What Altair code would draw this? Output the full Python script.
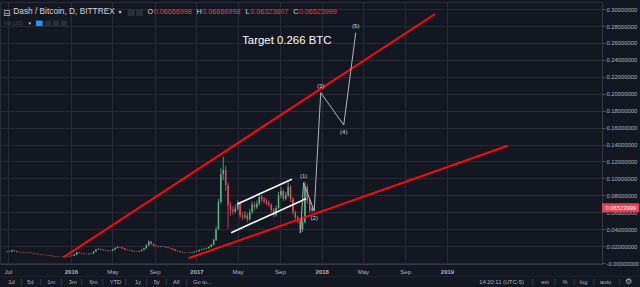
import altair as alt
import pandas as pd

# ---------------- data ----------------
week_start = "2015-06-29"          # weekly candles
first_open = 0.0130
closes = [0.0133, 0.0135, 0.0150, 0.0140, 0.0130, 0.0128, 0.0124, 0.0122, 0.0120, 0.0122,
          0.0118, 0.0112, 0.0108, 0.0102, 0.0098, 0.0094, 0.0092, 0.0088, 0.0084, 0.0080,
          0.0077, 0.0075, 0.0074, 0.0076, 0.0075, 0.0078, 0.0083, 0.0086, 0.0100, 0.0124,
          0.0118, 0.0112, 0.0106, 0.0104, 0.0108, 0.0112, 0.0135, 0.0160, 0.0165, 0.0158,
          0.0152, 0.0150, 0.0145, 0.0146, 0.0160, 0.0178, 0.0190, 0.0185, 0.0170, 0.0158,
          0.0154, 0.0148, 0.0140, 0.0135, 0.0133, 0.0140, 0.0155, 0.0173, 0.0210, 0.0255,
          0.0225, 0.0205, 0.0198, 0.0192, 0.0195, 0.0193, 0.0185, 0.0178, 0.0172, 0.0160,
          0.0145, 0.0138, 0.0130, 0.0124, 0.0122, 0.0120, 0.0122, 0.0126, 0.0133, 0.0140,
          0.0155, 0.0162, 0.0168, 0.0175, 0.0190, 0.0215, 0.0270, 0.0400, 0.0720, 0.1050,
          0.1100, 0.0920, 0.0680, 0.0630, 0.0610, 0.0640, 0.0700, 0.0560, 0.0545, 0.0560,
          0.0520, 0.0600, 0.0690, 0.0660, 0.0700, 0.0780, 0.0750, 0.0730, 0.0710, 0.0690,
          0.0630, 0.0570, 0.0650, 0.0800, 0.0850, 0.0760, 0.0800, 0.0900, 0.0760, 0.0600,
          0.0540, 0.0500, 0.0400, 0.0480, 0.0900, 0.0740, 0.0620, 0.0652]
highs = [0.0140, 0.0142, 0.0158, 0.0153, 0.0143, 0.0134, 0.0131, 0.0128, 0.0126, 0.0127,
         0.0125, 0.0121, 0.0115, 0.0111, 0.0105, 0.0101, 0.0097, 0.0095, 0.0091, 0.0087,
         0.0083, 0.0080, 0.0078, 0.0079, 0.0079, 0.0081, 0.0087, 0.0091, 0.0106, 0.0132,
         0.0128, 0.0121, 0.0115, 0.0110, 0.0112, 0.0117, 0.0141, 0.0168, 0.0174, 0.0170,
         0.0162, 0.0157, 0.0154, 0.0151, 0.0166, 0.0185, 0.0199, 0.0196, 0.0189, 0.0174,
         0.0162, 0.0158, 0.0152, 0.0144, 0.0139, 0.0145, 0.0160, 0.0180, 0.0220, 0.0268,
         0.0260, 0.0230, 0.0210, 0.0203, 0.0201, 0.0200, 0.0197, 0.0189, 0.0182, 0.0176,
         0.0163, 0.0149, 0.0141, 0.0133, 0.0128, 0.0126, 0.0126, 0.0130, 0.0138, 0.0145,
         0.0160, 0.0168, 0.0175, 0.0182, 0.0198, 0.0225, 0.0290, 0.0430, 0.0760, 0.1120,
         0.1255, 0.1150, 0.0950, 0.0720, 0.0670, 0.0690, 0.0740, 0.0720, 0.0600, 0.0610,
         0.0590, 0.0640, 0.0730, 0.0720, 0.0740, 0.0820, 0.0800, 0.0780, 0.0760, 0.0740,
         0.0700, 0.0650, 0.0680, 0.0840, 0.0900, 0.0870, 0.0840, 0.0950, 0.0920, 0.0780,
         0.0620, 0.0560, 0.0520, 0.0530, 0.0960, 0.0930, 0.0760, 0.0667]
lows = [0.0126, 0.0128, 0.0132, 0.0136, 0.0126, 0.0124, 0.0120, 0.0118, 0.0116, 0.0117,
        0.0114, 0.0109, 0.0104, 0.0099, 0.0095, 0.0091, 0.0089, 0.0085, 0.0081, 0.0077,
        0.0074, 0.0072, 0.0071, 0.0071, 0.0072, 0.0073, 0.0076, 0.0080, 0.0084, 0.0097,
        0.0112, 0.0108, 0.0102, 0.0100, 0.0101, 0.0105, 0.0110, 0.0131, 0.0155, 0.0152,
        0.0147, 0.0145, 0.0140, 0.0140, 0.0143, 0.0157, 0.0174, 0.0178, 0.0165, 0.0153,
        0.0149, 0.0143, 0.0136, 0.0131, 0.0128, 0.0130, 0.0137, 0.0151, 0.0170, 0.0205,
        0.0218, 0.0198, 0.0192, 0.0186, 0.0188, 0.0188, 0.0180, 0.0173, 0.0167, 0.0155,
        0.0140, 0.0134, 0.0126, 0.0120, 0.0118, 0.0116, 0.0116, 0.0119, 0.0123, 0.0130,
        0.0137, 0.0150, 0.0157, 0.0163, 0.0171, 0.0186, 0.0210, 0.0262, 0.0390, 0.0700,
        0.0980, 0.0850, 0.0410, 0.0560, 0.0570, 0.0590, 0.0620, 0.0530, 0.0510, 0.0520,
        0.0480, 0.0500, 0.0580, 0.0630, 0.0640, 0.0680, 0.0720, 0.0700, 0.0680, 0.0660,
        0.0600, 0.0540, 0.0550, 0.0640, 0.0770, 0.0730, 0.0740, 0.0780, 0.0720, 0.0570,
        0.0510, 0.0470, 0.0350, 0.0370, 0.0470, 0.0700, 0.0590, 0.0602]

last_price = 0.06523999
header_name = "Dash / Bitcoin, D, BITTREX"
header_ohlc = [("O", "0.06666998"), ("H", "0.06666998"), ("L", "0.06323607"), ("C", "0.06523999")]

# trend lines drawn on the chart
red_line_dates = [["2015-12-10", "2018-11-27"], ["2016-12-09", "2019-06-27"]]
red_line_values = [[0.0067, 0.2942], [0.0056, 0.1386]]
channel_dates = [["2017-04-30", "2017-10-06"], ["2017-04-12", "2017-11-16"]]
channel_values = [[0.0697, 0.0989], [0.0358, 0.0760]]
wave_dates = ["2017-10-31", "2017-11-09", "2017-12-10", "2017-12-29", "2018-03-06", "2018-04-10"]
wave_values = [0.0354, 0.0949, 0.0614, 0.2012, 0.1630, 0.2721]
wave_labels = ["", "(1)", "(2)", "(3)", "(4)", "(5)"]
target_text = "Target 0.266 BTC"
target_date = "2017-05-14"
target_value = 0.2626

x_tick_dates = [(2015, 7), (2016, 1), (2016, 5), (2016, 9), (2017, 1), (2017, 5), (2017, 9),
                (2018, 1), (2018, 5), (2018, 9), (2019, 1)]
y_ticks = [round(0.02 * i, 2) for i in range(16)]

toolbar_left = ["1d", "5d", "1m", "3m", "6m", "YTD", "1y", "5y", "All", "Go to..."]
toolbar_right = ["14:20:11 (UTC-5)", "ext", "%", "log", "auto"]

# ---------------- tables ----------------
dates = pd.date_range(week_start, periods=len(closes), freq="7D").strftime("%Y-%m-%d")
opens = [first_open] + closes[:-1]
candles = pd.DataFrame({"date": dates, "open": opens, "close": closes, "high": highs, "low": lows})
candles["dir"] = ["up" if c >= o else "down" for o, c in zip(opens, closes)]

def seg_df(dl, vl):
    rows = []
    for i, (ds, vs) in enumerate(zip(dl, vl)):
        for d, v in zip(ds, vs):
            rows.append({"date": d, "value": v, "id": i})
    return pd.DataFrame(rows)

red_df = seg_df(red_line_dates, red_line_values)
chan_df = seg_df(channel_dates, channel_values)
wave_df = pd.DataFrame({"date": wave_dates, "value": wave_values, "label": wave_labels,
                        "order": list(range(len(wave_dates)))})
target_df = pd.DataFrame({"date": [target_date], "value": [target_value], "t": [target_text]})
price_df = pd.DataFrame({"value": [last_price], "t": [f"{last_price:.8f}"]})
one = pd.DataFrame({"k": [0]})

# ---------------- styling / layout ----------------
BG = "#131722"
GRID = "#272b36"
AX = "#b2b5be"
UP = "#53b987"
DOWN = "#eb4d5c"
FONT = "Liberation Sans"
TOP = 2
W, H = 602, 262

x_scale = alt.Scale(type="utc", domain=[alt.DateTime(year=2015, month=6, date=23, utc=True),
                                        alt.DateTime(year=2020, month=3, date=13, utc=True)])
y_scale = alt.Scale(domain=[-0.00118, 0.30837], nice=False, zero=False)

x_axis = alt.Axis(
    values=[alt.DateTime(year=y, month=m, date=1, utc=True) for y, m in x_tick_dates],
    labelExpr="utcFormat(datum.value, '%m') == '01' ? utcFormat(datum.value, '%Y') : utcFormat(datum.value, '%b')",
    labelFontWeight={"condition": {"test": "utcmonth(datum.value) == 0", "value": "bold"}, "value": "normal"},
    title=None, grid=True, gridColor=GRID, gridWidth=1, domainColor="#363a45", tickSize=0,
    labelPadding=4, labelFontSize=6, labelColor=AX, labelFont=FONT, labelFlush=5,
    labelOverlap=False)
y_axis = alt.Axis(
    orient="right", values=y_ticks,
    labelExpr="datum.value == 0 ? '-0.00000000' : format(datum.value, '.8f')",
    title=None, grid=True, gridColor=GRID, gridWidth=1, domainColor="#363a45",
    tickColor="#50535e", tickSize=3, labelPadding=1, labelFontSize=5.8, labelColor=AX,
    labelFont=FONT, labelOverlap=False)

def X(field="date"):
    return alt.X(f"{field}:T", scale=x_scale, axis=x_axis)

def Y(field="value"):
    return alt.Y(f"{field}:Q", scale=y_scale, axis=y_axis)

candle_color = alt.Color("dir:N", scale=alt.Scale(domain=["up", "down"], range=[UP, DOWN]), legend=None)

wicks = alt.Chart(candles).mark_rule(strokeWidth=0.8).encode(
    x=X(), y=Y("low"), y2="high:Q", color=candle_color)
bodies = alt.Chart(candles).mark_bar(size=1.5).encode(
    x=X(), y=Y("open"), y2="close:Q", color=candle_color)

red_lines = alt.Chart(red_df).mark_line(color="#ff0a0a", strokeWidth=2).encode(
    x=X(), y=Y(), detail="id:N")
chan_lines = alt.Chart(chan_df).mark_line(color="#ffffff", strokeWidth=1.6).encode(
    x=X(), y=Y(), detail="id:N")
wave_line = alt.Chart(wave_df).mark_line(color="#b2b5be", strokeWidth=1).encode(
    x=X(), y=Y(), order="order:Q")
wave_up = alt.Chart(wave_df).transform_filter("datum.order % 2 == 1").mark_text(
    dy=-7, fontSize=6, color="#d1d4dc", font=FONT).encode(x=X(), y=Y(), text="label:N")
wave_dn = alt.Chart(wave_df).transform_filter("datum.order % 2 == 0 && datum.order > 0").mark_text(
    dy=7, fontSize=6, color="#d1d4dc", font=FONT).encode(x=X(), y=Y(), text="label:N")
target = alt.Chart(target_df).mark_text(align="left", baseline="middle", fontSize=11.4,
                                         color="#ffffff", font=FONT).encode(x=X(), y=Y(), text="t:N")

price_box = alt.Chart(price_df).mark_tick(orient="horizontal", size=37, thickness=9,
                                           color="#e8414f", opacity=1).encode(
    x=alt.value(620.5), y=Y())
price_txt = alt.Chart(price_df).mark_text(align="left", baseline="middle", fontSize=5.8,
                                           color="#ffffff", font=FONT).encode(
    x=alt.value(605.5), y=Y(), text="t:N")

def ui_text(txt, x, y, size=6.0, color=AX, align="left", font=FONT, weight="normal"):
    return alt.Chart(one).mark_text(text=txt, align=align, baseline="middle", fontSize=size,
                                    color=color, font=font, fontWeight=weight).encode(
        x=alt.value(x), y=alt.value(y - TOP))

def ui_rect(x, y, w, h, color):
    return alt.Chart(one).mark_rect(color=color).encode(
        x=alt.value(x), x2=alt.value(x + w), y=alt.value(y - TOP), y2=alt.value(y + h - TOP))

def ui_rule(x1, y1, x2, y2, color, width=1):
    return alt.Chart(one).mark_rule(color=color, strokeWidth=width).encode(
        x=alt.value(x1), x2=alt.value(x2), y=alt.value(y1 - TOP), y2=alt.value(y2 - TOP))

ui = []
# header
ui.append(ui_text("\u229f", 3, 12.5, size=9, color="#b2b5be", font="DejaVu Sans"))
ui.append(ui_text(header_name, 13.3, 12.3, size=8.3, color="#d1d4dc"))
ui.append(ui_text("\u25be", 118.5, 12.3, size=6, color="#d1d4dc", font="DejaVu Sans"))
ui.append(ui_rect(127.5, 9, 7, 7, "#2a2e39"))
ui.append(ui_rect(136, 9, 7, 7, "#2a2e39"))
ohlc_x = [(147.5, 153.7), (196.5, 202.3), (245.5, 250.3), (293.3, 298.7)]
for (letter, val), (lx, vx) in zip(header_ohlc, ohlc_x):
    ui.append(ui_text(letter, lx, 12.3, size=7.2, color="#d1d4dc"))
    ui.append(ui_text(val, vx, 12.3, size=7.2, color="#e0434f"))
ui.append(ui_text("Vol (20)", 3.5, 22.5, size=5.6, color="#4a4f5c"))
ui.append(ui_text("\u25be", 28.5, 22.5, size=5, color="#d1d4dc", font="DejaVu Sans"))
ui.append(ui_rect(36, 20.5, 6.5, 5.5, "#2196f3"))
for bx in [45, 53, 61]:
    ui.append(ui_rect(bx, 20.5, 6, 5.5, "#2a2e39"))

# bottom toolbar
ui.append(ui_rule(0, 276.5, 640, 276.5, "#1e222d"))
tl_x = [11.4, 30.2, 51.4, 72.7, 93.5, 115.5, 138, 156.7, 176.3, 202.4]
for t, x in zip(toolbar_left, tl_x):
    ui.append(ui_text(t, x, 282, size=5.8, align="center"))
for sx in [21.2, 40.8, 61.2, 81.6, 102.9, 125.7, 146.9, 166.5, 186.9]:
    ui.append(ui_rule(sx, 279, sx, 285, "#363a45"))
tr_x = [501.6, 545, 565, 583.7, 605.7]
for t, x in zip(toolbar_right, tr_x):
    ui.append(ui_text(t, x, 282, size=5.8, align="center"))
ui.append(ui_text("\u2699", 628.6, 282, size=8, align="center", font="DejaVu Sans"))
for sx in [532.7, 555, 574.3, 593.9, 619.6]:
    ui.append(ui_rule(sx, 279, sx, 285, "#363a45"))

chart = alt.layer(
    wicks, bodies, red_lines, chan_lines, wave_line, wave_up, wave_dn, target,
    price_box, price_txt, *ui
).properties(
    width=W, height=H, background=BG,
    padding={"left": 0, "top": TOP, "right": 38, "bottom": 23},
    autosize=alt.AutoSizeParams(type="none"),
).configure_view(stroke="#2a2e39")

chart.save("out.html", embed_options={"renderer": "svg", "actions": False})
